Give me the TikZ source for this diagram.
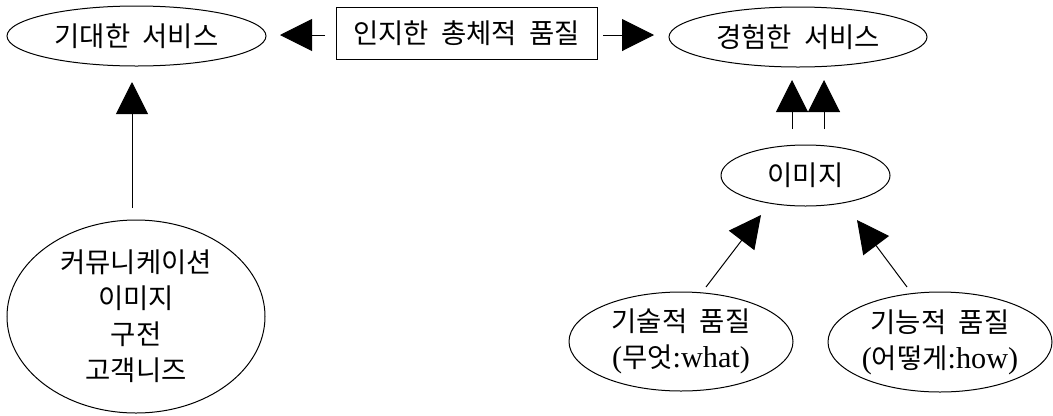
\documentclass[tikz,border=0pt]{standalone}
\usepackage{fontspec}
\setmainfont{Liberation Serif}[Scale=1.1]
\newfontfamily\kr{Noto Sans CJK KR}[WordSpace=2.0]
\usetikzlibrary{shapes.geometric,arrows.meta,calc}
\tikzset{
  lbl/.style={font=\fontsize{20.6pt}{27pt}\selectfont, align=center, inner sep=0pt},
  oval/.style={lbl, draw, ellipse, line width=0.75pt},
  rbox/.style={lbl, draw, rectangle, line width=0.75pt},
  arr/.style={line width=0.75pt, -{Triangle[length=24pt,width=24pt]}},
}
\begin{document}
\begin{tikzpicture}[x=0.75pt,y=-0.75pt]
\useasboundingbox (0,0) rectangle (1053,415);
\node[oval, minimum width=259*0.75pt, minimum height=60*0.75pt] (e1) at (136.5,36) {\kr 기대한 서비스};
\node[rbox, minimum width=261*0.75pt, minimum height=52*0.75pt] (box) at (466.5,33) {\kr 인지한 총체적 품질};
\node[oval, minimum width=258*0.75pt, minimum height=60*0.75pt] (e2) at (798,37) {\kr 경험한 서비스};
\node[oval, minimum width=169*0.75pt, minimum height=61*0.75pt] (img) at (805.5,175.5) {\kr 이미지};
\node[oval, minimum width=258*0.75pt, minimum height=193*0.75pt] (comm) at (136,316.5) {\kr 커뮤니케이션\\\kr 이미지\\\kr 구전\\\kr 고객니즈};
\node[oval, minimum width=224*0.75pt, minimum height=99*0.75pt] (tech) at (681,341.5) {\kr 기술적 품질\\({\kr 무엇}:what)};
\node[oval, minimum width=224*0.75pt, minimum height=100*0.75pt] (func) at (940,342) {\kr 기능적 품질\\({\kr 어떻게}:how)};

\draw[arr] ($(box.center)+(-141.5,2)$) -- ($(e1.center)+(143.5,-1)$);
\draw[arr] ($(box.center)+(136.5,2)$) -- ($(e2.center)+(-144,-2)$);
\draw[arr] ($(comm.center)+(-4,-108.5)$) -- ($(e1.center)+(-4.5,46)$);
\draw[arr] ($(img.center)+(-13.5,-46.5)$) -- ($(e2.center)+(-6,43)$);
\draw[arr] ($(img.center)+(18.5,-46.5)$) -- ($(e2.center)+(26,43)$);
\draw[arr] ($(tech.center)+(25,-54.5)$) -- ($(img.center)+(-44.5,39.5)$);
\draw[arr] ($(func.center)+(-33,-55)$) -- ($(img.center)+(51.5,44.5)$);
\end{tikzpicture}
\end{document}
